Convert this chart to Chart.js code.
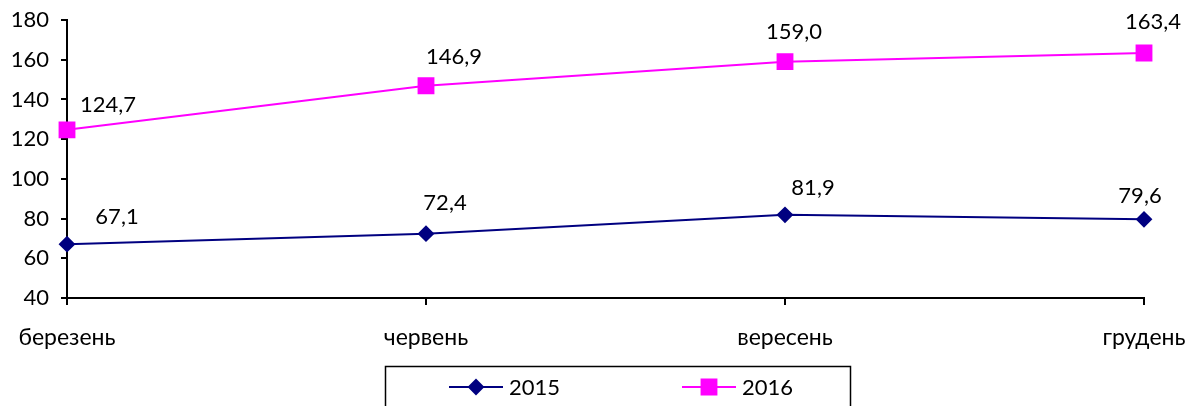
<!DOCTYPE html>
<html>
<head>
<meta charset="utf-8">
<script src="https://cdn.jsdelivr.net/npm/chart.js@4/dist/chart.umd.min.js"></script>
<style>
  html, body { margin: 0; padding: 0; background: #fff; }
  #wrap { width: 1190px; height: 406px; }
</style>
</head>
<body>
<div id="wrap"><canvas id="chart" width="1190" height="406"></canvas></div>
<script>
// chart data
const months = ['березень', 'червень', 'вересень', 'грудень'];
const values2015 = [67.1, 72.4, 81.9, 79.6];
const values2016 = [124.7, 146.9, 159.0, 163.4];
const yTicks = [40, 60, 80, 100, 120, 140, 160, 180];

const FAMILY = 'Lato, "Open Sans", sans-serif';
const NUM_FONT = { family: FAMILY, size: 22 };
const CAT_FONT = { family: FAMILY, size: 23 };

// where each value label sits relative to its point (dx, dy), as in the original
const labelOffsets = [
  [[50, -27], [19, -31], [28, -27], [-4, -23]],
  [[41, -25], [28, -29], [9, -30], [9, -31]]
];

// value labels near each point, comma as decimal mark
const valueLabels = {
  id: 'valueLabels',
  afterDatasetsDraw(chart) {
    const ctx = chart.ctx;
    ctx.save();
    ctx.font = `${NUM_FONT.size}px ${NUM_FONT.family}`;
    ctx.fillStyle = '#000';
    ctx.textAlign = 'center';
    ctx.textBaseline = 'middle';
    chart.data.datasets.forEach((ds, i) => {
      chart.getDatasetMeta(i).data.forEach((pt, j) => {
        const text = ds.data[j].toFixed(1).replace('.', ',');
        const [dx, dy] = labelOffsets[i][j];
        ctx.fillText(text, pt.x + dx, pt.y + dy);
      });
    });
    ctx.restore();
  }
};

// boxed legend under the axis
const boxLegend = {
  id: 'boxLegend',
  afterDraw(chart) {
    const ctx = chart.ctx;
    ctx.save();
    ctx.strokeStyle = '#000';
    ctx.lineWidth = 1.5;
    ctx.strokeRect(385.5, 366.5, 465, 60);
    const starts = [449, 682];
    const y = 387;
    chart.data.datasets.forEach((ds, i) => {
      const x0 = starts[i];
      ctx.strokeStyle = ds.borderColor;
      ctx.lineWidth = 2;
      ctx.beginPath();
      ctx.moveTo(x0, y);
      ctx.lineTo(x0 + 54, y);
      ctx.stroke();
      Chart.helpers.drawPoint(ctx, {
        pointStyle: ds.pointStyle,
        radius: ds.pointRadius,
        borderWidth: 1
      }, x0 + 27, y);
      ctx.fillStyle = ds.pointBackgroundColor;
      ctx.fill();
      ctx.fillStyle = '#000';
      ctx.font = `${NUM_FONT.size}px ${NUM_FONT.family}`;
      ctx.textAlign = 'left';
      ctx.textBaseline = 'middle';
      ctx.fillText(ds.label, x0 + 60, y + 1);
    });
    ctx.restore();
  }
};

new Chart(document.getElementById('chart'), {
  type: 'line',
  data: {
    labels: months,
    datasets: [
      {
        label: '2015',
        data: values2015,
        borderColor: '#000080',
        backgroundColor: '#000080',
        pointBackgroundColor: '#000080',
        pointBorderColor: '#000080',
        pointStyle: 'rectRot',
        pointRadius: 7,
        borderWidth: 2
      },
      {
        label: '2016',
        data: values2016,
        borderColor: '#FF00FF',
        backgroundColor: '#FF00FF',
        pointBackgroundColor: '#FF00FF',
        pointBorderColor: '#FF00FF',
        pointStyle: 'rect',
        pointRadius: 10.5,
        borderWidth: 2
      }
    ]
  },
  options: {
    responsive: false,
    animation: false,
    layout: { padding: { top: 20, right: 46, left: 0, bottom: 0 } },
    plugins: {
      legend: { display: false },
      tooltip: { enabled: false }
    },
    scales: {
      x: {
        offset: false,
        grid: {
          display: true,
          drawOnChartArea: false,
          drawTicks: true,
          tickLength: 7,
          color: '#000',
          lineWidth: 2
        },
        border: { display: true, color: '#000', width: 2 },
        ticks: { color: '#000', font: CAT_FONT, padding: 19, maxRotation: 0 },
        afterFit(scale) {
          scale.height = 108;
          scale.paddingLeft = 0;
          scale.paddingRight = 0;
        }
      },
      y: {
        min: 40,
        max: 180,
        afterBuildTicks(scale) { scale.ticks = yTicks.map(v => ({ value: v })); },
        grid: {
          display: true,
          drawOnChartArea: false,
          drawTicks: true,
          tickLength: 6,
          color: '#000',
          lineWidth: 2
        },
        border: { display: true, color: '#000', width: 2 },
        ticks: { color: '#000', font: NUM_FONT, padding: 12 },
        afterFit(scale) {
          scale.width = 67;
          scale.paddingTop = 0;
          scale.paddingBottom = 0;
        }
      }
    }
  },
  plugins: [valueLabels, boxLegend]
});
</script>
</body>
</html>
